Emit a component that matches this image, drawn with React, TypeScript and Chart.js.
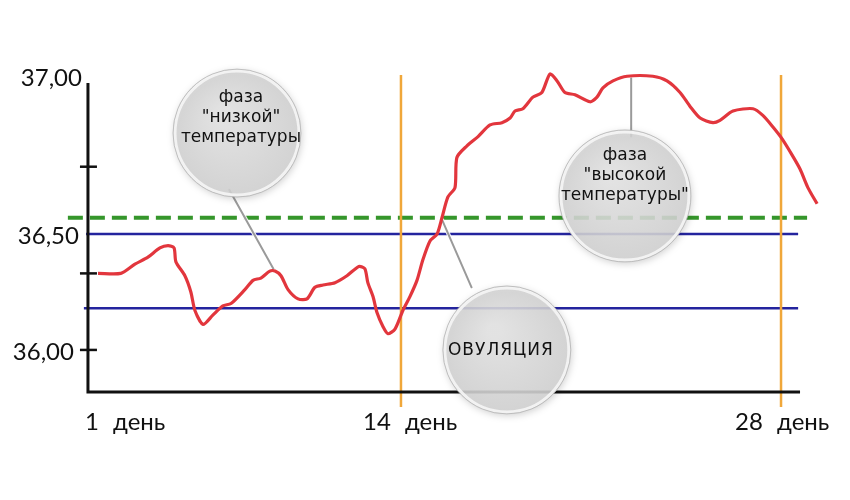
import { useEffect, useRef } from 'react';
import { Chart, registerables } from 'chart.js';

Chart.register(...registerables);

// Red basal-temperature curve (day of cycle, °C)
const DAYS = [2.84, 3.68, 4.20, 4.68, 5.12, 5.42, 5.64, 5.71, 6.04, 6.26, 6.41, 6.71, 7.07, 7.44, 7.74, 8.25, 8.55, 8.84, 9.17, 9.36, 9.58, 9.84, 10.21, 10.54, 10.83, 11.13, 11.57, 12.01, 12.45, 12.67, 12.78, 12.97, 13.12, 13.34, 13.52, 13.78, 14.07, 14.33, 14.59, 14.81, 15.07, 15.33, 15.51, 15.73, 15.99, 16.06, 16.43, 16.84, 17.28, 17.72, 18.02, 18.20, 18.49, 18.86, 19.19, 19.49, 19.75, 20.04, 20.41, 20.96, 21.22, 21.44, 21.81, 22.33, 23.28, 23.80, 24.28, 24.65, 25.02, 25.49, 25.75, 26.23, 26.97, 27.34, 27.71, 28.04, 28.41, 28.70, 28.99, 29.33];
const TEMPS = [36.33, 36.33, 36.37, 36.40, 36.44, 36.45, 36.44, 36.38, 36.32, 36.25, 36.17, 36.11, 36.15, 36.19, 36.20, 36.26, 36.30, 36.31, 36.34, 36.34, 36.32, 36.26, 36.22, 36.22, 36.27, 36.28, 36.29, 36.32, 36.36, 36.35, 36.29, 36.23, 36.16, 36.10, 36.07, 36.09, 36.17, 36.23, 36.30, 36.39, 36.47, 36.50, 36.57, 36.66, 36.70, 36.83, 36.88, 36.92, 36.97, 36.98, 37.00, 37.03, 37.04, 37.09, 37.11, 37.19, 37.16, 37.11, 37.10, 37.07, 37.09, 37.13, 37.16, 37.18, 37.18, 37.16, 37.11, 37.05, 37.00, 36.98, 36.99, 37.03, 37.04, 37.01, 36.96, 36.91, 36.84, 36.78, 36.70, 36.63];

// Axis labels
const X_TICK_DAYS = [2.47, 14, 28];
const X_TICK_LABELS = ['1 день', '14 день', '28 день'];
const Y_TICK_TEMPS = [37.18, 36.5, 36.0];
const Y_TICK_LABELS = ['37,00', '36,50', '36,00'];
const Y_TICK_MARKS = [36.79, 36.33, 36.0];

// Reference lines
const MARKER_DAYS = [14, 28];
const UPPER_BAND = 36.5;
const LOWER_BAND = 36.18;
const THRESHOLD = 36.57;

// Callout texts
const LOW_PHASE_TEXT = ['фаза', '"низкой"', 'температуры'];
const OVULATION_TEXT = ['ОВУЛЯЦИЯ'];
const HIGH_PHASE_TEXT = ['фаза', '"высокой', 'температуры"'];

// Scale range (axes themselves are drawn by the plugin)
const X_MIN = 1.44;
const X_MAX = 29.62;
const Y_MIN = 35.741;
const Y_MAX = 37.207;
const AXIS_DAY_START = 2.47;
const AXIS_DAY_END = 28.7;
const AXIS_TEMP_BOTTOM = 35.819;
const AXIS_TEMP_TOP = 37.151;

function drawBubble(ctx: CanvasRenderingContext2D, cx: number, cy: number, r: number) {
  ctx.save();
  ctx.shadowColor = 'rgba(0,0,0,0.2)';
  ctx.shadowBlur = 7;
  ctx.shadowOffsetX = 1;
  ctx.shadowOffsetY = 2;
  const g = ctx.createRadialGradient(cx - r * 0.2, cy - r * 0.3, r * 0.1, cx, cy, r);
  g.addColorStop(0, 'rgba(228,228,228,0.88)');
  g.addColorStop(1, 'rgba(210,210,210,0.88)');
  ctx.beginPath();
  ctx.arc(cx, cy, r, 0, Math.PI * 2);
  ctx.fillStyle = g;
  ctx.fill();
  ctx.restore();
  ctx.save();
  ctx.beginPath();
  ctx.arc(cx, cy, r - 2, 0, Math.PI * 2);
  ctx.strokeStyle = 'rgba(246,246,246,0.9)';
  ctx.lineWidth = 3;
  ctx.stroke();
  ctx.beginPath();
  ctx.arc(cx, cy, r, 0, Math.PI * 2);
  ctx.strokeStyle = 'rgba(175,175,175,0.7)';
  ctx.lineWidth = 1;
  ctx.stroke();
  ctx.restore();
}

function drawConnector(ctx: CanvasRenderingContext2D, x1: number, y1: number, x2: number, y2: number) {
  ctx.save();
  ctx.lineCap = 'round';
  ctx.strokeStyle = 'rgba(255,255,255,0.9)';
  ctx.lineWidth = 4;
  ctx.beginPath();
  ctx.moveTo(x1, y1);
  ctx.lineTo(x2, y2);
  ctx.stroke();
  ctx.strokeStyle = '#9a9a9a';
  ctx.lineWidth = 2;
  ctx.beginPath();
  ctx.moveTo(x1, y1);
  ctx.lineTo(x2, y2);
  ctx.stroke();
  ctx.restore();
}

function drawLines(ctx: CanvasRenderingContext2D, lines: string[], cx: number, cy: number, lh: number, font: string, spacing = '0px') {
  ctx.save();
  ctx.font = font;
  (ctx as any).letterSpacing = spacing;
  ctx.fillStyle = '#111';
  ctx.textAlign = 'center';
  ctx.textBaseline = 'middle';
  const start = cy - ((lines.length - 1) * lh) / 2;
  lines.forEach((t, i) => ctx.fillText(t, cx, start + i * lh));
  ctx.restore();
}

const decorPlugin = {
  id: 'decor',
  beforeDatasetsDraw(chart: any) {
    const ctx: CanvasRenderingContext2D = chart.ctx;
    const xs = chart.scales.x;
    const ys = chart.scales.y;
    const X = (d: number) => xs.getPixelForValue(d);
    const Y = (t: number) => ys.getPixelForValue(t);

    ctx.save();
    // blue band lines
    ctx.strokeStyle = '#24249e';
    ctx.lineWidth = 2.4;
    ctx.beginPath();
    ctx.moveTo(X(2.4), Y(UPPER_BAND));
    ctx.lineTo(X(28.63), Y(UPPER_BAND));
    ctx.moveTo(X(2.32), Y(LOWER_BAND));
    ctx.lineTo(X(28.63), Y(LOWER_BAND));
    ctx.stroke();

    // green dashed threshold
    ctx.strokeStyle = '#35962b';
    ctx.lineWidth = 4;
    ctx.setLineDash([15, 7]);
    ctx.beginPath();
    ctx.moveTo(X(1.73), Y(THRESHOLD));
    ctx.lineTo(X(28.96), Y(THRESHOLD));
    ctx.stroke();
    ctx.setLineDash([]);

    // orange day markers
    ctx.strokeStyle = '#f0a73a';
    ctx.lineWidth = 2.5;
    MARKER_DAYS.forEach((d) => {
      ctx.beginPath();
      ctx.moveTo(X(d), Y(37.185));
      ctx.lineTo(X(d), Y(35.754));
      ctx.stroke();
    });

    // axes
    ctx.strokeStyle = '#111';
    ctx.lineWidth = 3;
    ctx.beginPath();
    ctx.moveTo(X(AXIS_DAY_START), Y(AXIS_TEMP_TOP));
    ctx.lineTo(X(AXIS_DAY_START), Y(AXIS_TEMP_BOTTOM));
    ctx.lineTo(X(AXIS_DAY_END), Y(AXIS_TEMP_BOTTOM));
    ctx.stroke();
    ctx.lineWidth = 2.5;
    Y_TICK_MARKS.forEach((t) => {
      ctx.beginPath();
      ctx.moveTo(X(AXIS_DAY_START) - 8, Y(t));
      ctx.lineTo(X(AXIS_DAY_START) + 9, Y(t));
      ctx.stroke();
    });

    // y labels
    ctx.fillStyle = '#111';
    ctx.font = '24px Lato';
    ctx.textAlign = 'right';
    ctx.textBaseline = 'middle';
    const yRight = [82, 79, 74];
    Y_TICK_TEMPS.forEach((t, i) => {
      ctx.fillText(Y_TICK_LABELS[i], X(AXIS_DAY_START) - (88 - yRight[i]), Y(t) + 2);
    });

    // x labels
    ctx.textAlign = 'left';
    (ctx as any).wordSpacing = '8px';
    const xOff = [-3, -38, -46];
    X_TICK_DAYS.forEach((d, i) => {
      ctx.fillText(X_TICK_LABELS[i], X(d) + xOff[i], Y(AXIS_TEMP_BOTTOM) + 30);
    });
    (ctx as any).wordSpacing = '0px';
    ctx.restore();

    // callouts
    drawConnector(ctx, X(7.68), Y(36.69), X(9.3), Y(36.35));
    drawConnector(ctx, X(15.52), Y(36.56), X(16.6), Y(36.27));
    drawConnector(ctx, X(22.48), Y(37.17), X(22.48), Y(36.92));

    const low = { x: X(7.96), y: Y(36.935) };
    const ov = { x: X(17.9), y: Y(36.0) };
    const high = { x: X(22.25), y: Y(36.664) };
    drawBubble(ctx, low.x, low.y, 64);
    drawBubble(ctx, ov.x, ov.y, 64);
    drawBubble(ctx, high.x, high.y, 66);
    drawLines(ctx, LOW_PHASE_TEXT, low.x + 4, low.y - 16, 20, '17px "DejaVu Sans"');
    drawLines(ctx, HIGH_PHASE_TEXT, high.x, high.y - 20, 20, '17px "DejaVu Sans"');
    drawLines(ctx, OVULATION_TEXT, ov.x - 6, ov.y + 1, 20, '17px "DejaVu Sans"', '1px');
  },
};

export default function App() {
  const ref = useRef<HTMLCanvasElement>(null);
  useEffect(() => {
    const chart = new Chart(ref.current!, {
      type: 'line',
      data: {
        datasets: [
          {
            data: DAYS.map((d, i) => ({ x: d, y: TEMPS[i] })),
            borderColor: '#e2363d',
            borderWidth: 3.2,
            pointRadius: 0,
            tension: 0.25,
            fill: false,
            clip: false as any,
          },
        ],
      },
      options: {
        animation: false,
        responsive: false,
        devicePixelRatio: 1,
        layout: { padding: { left: 60, right: 25, top: 70, bottom: 90 } },
        plugins: { legend: { display: false }, tooltip: { enabled: false } },
        scales: {
          x: { type: 'linear', display: false, min: X_MIN, max: X_MAX },
          y: { type: 'linear', display: false, min: Y_MIN, max: Y_MAX },
        },
      },
      plugins: [decorPlugin],
    });
    return () => chart.destroy();
  }, []);
  return (
    <div style={{ position: 'absolute', left: 0, top: 0, width: 850, height: 500, background: '#fff' }}>
      <canvas ref={ref} width={850} height={500} style={{ display: 'block', width: 850, height: 500 }} />
    </div>
  );
}
